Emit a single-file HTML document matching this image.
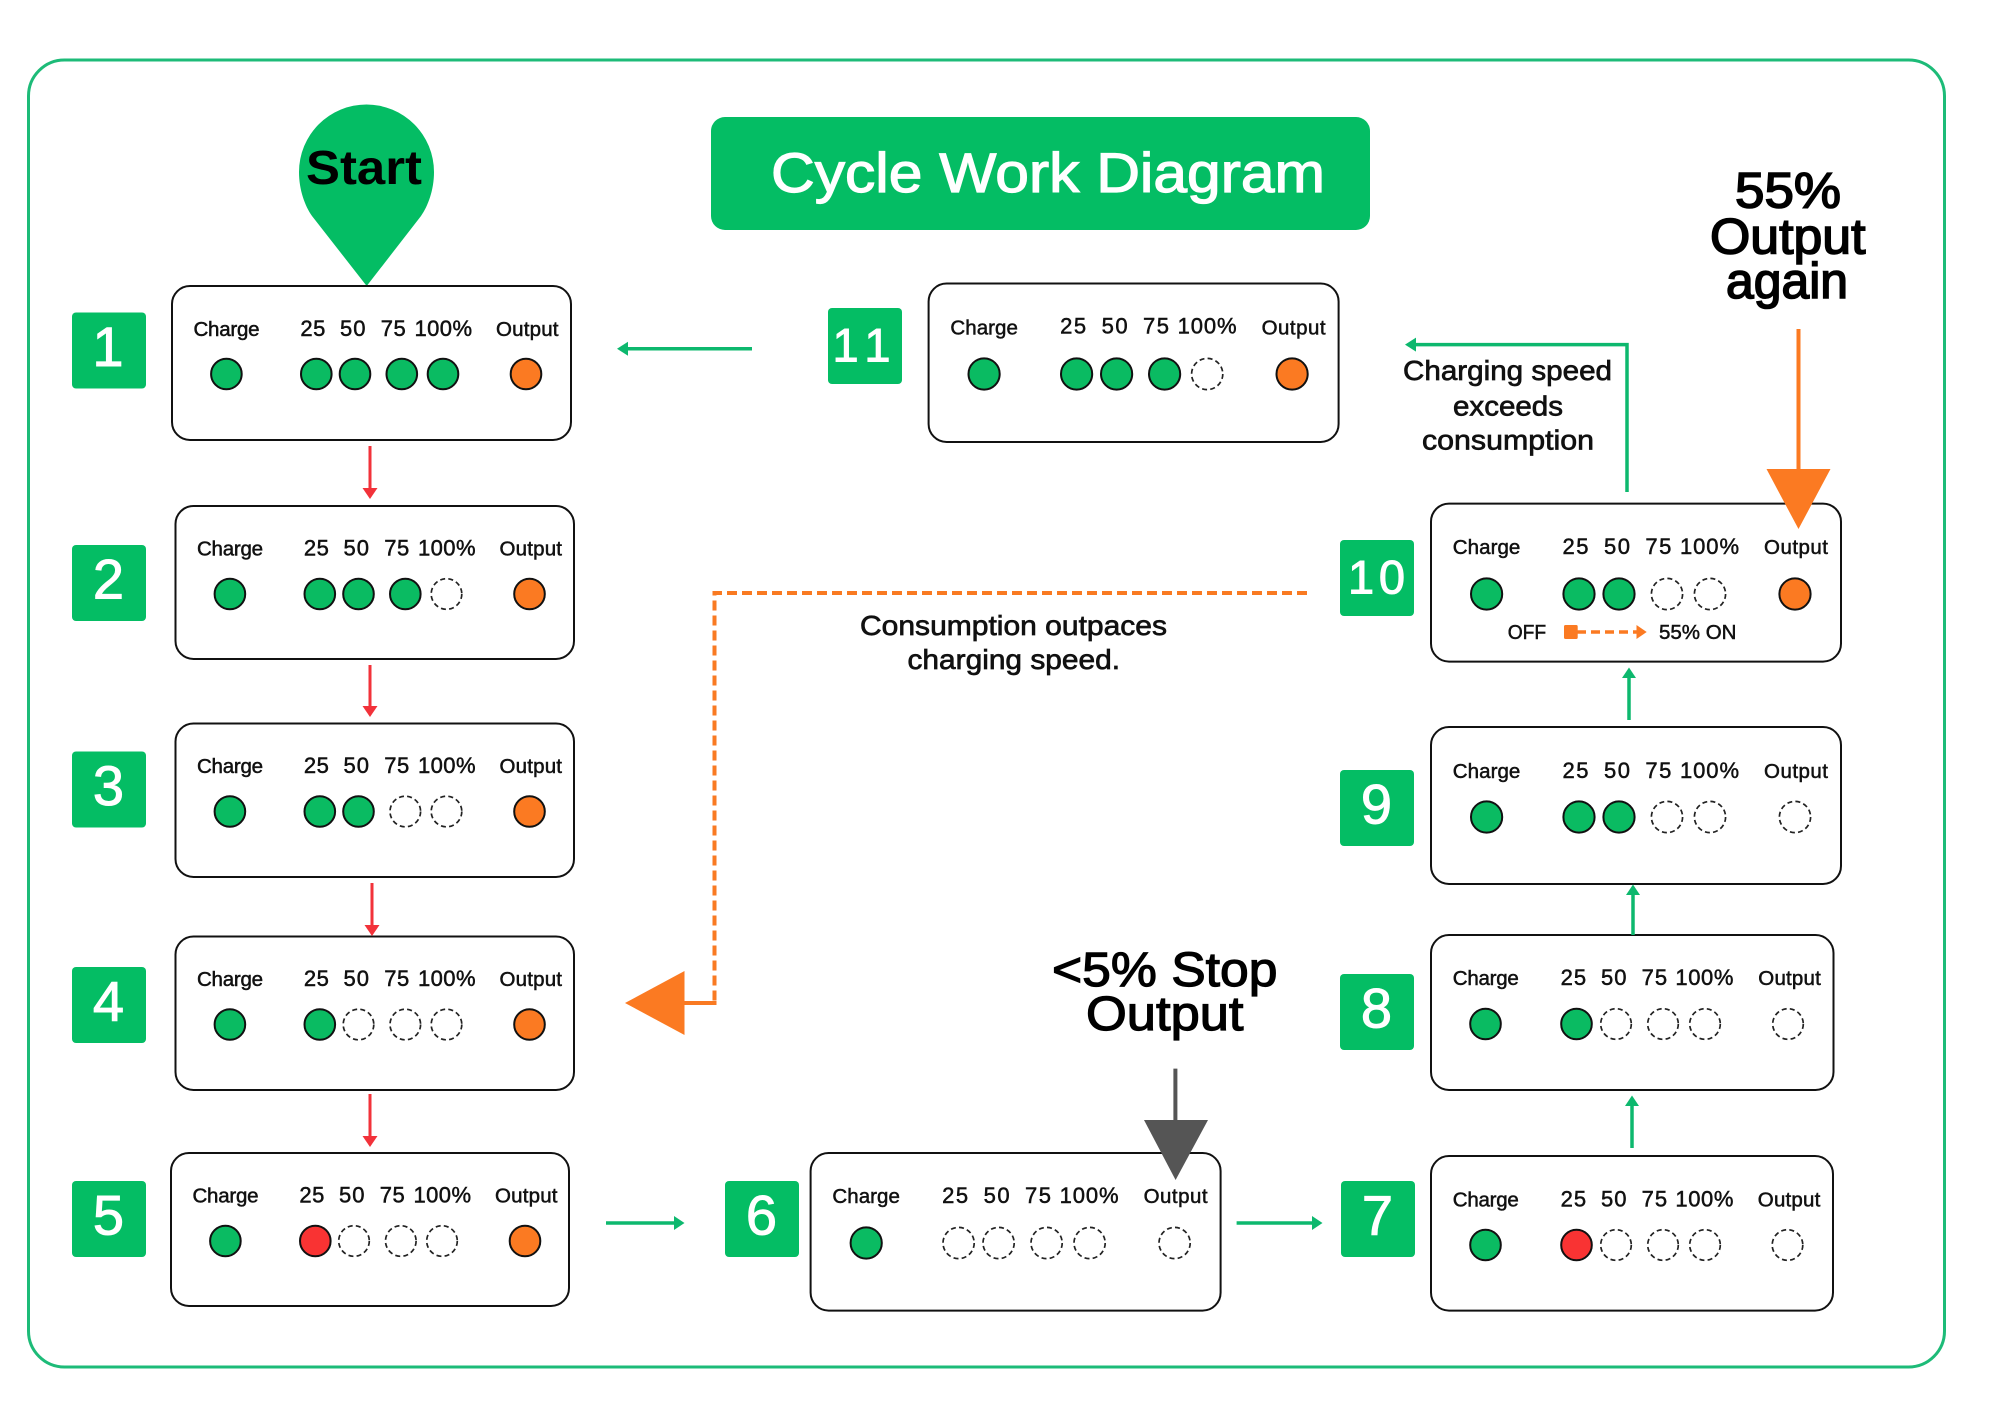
<!DOCTYPE html>
<html lang="en">
<head>
<meta charset="utf-8">
<title>Cycle Work Diagram</title>
<style>
html,body{margin:0;padding:0;background:#fff;width:2000px;height:1409px;overflow:hidden}
svg{display:block}
text{font-family:"Liberation Sans",Arial,sans-serif}
.box{fill:#fff;stroke:#111;stroke-width:2}
.l{font-size:20.5px;fill:#111;stroke:#111;stroke-width:.5px}
g text.l:nth-of-type(n+2):nth-of-type(-n+5){font-size:22px}
.g{fill:#0ABB62;stroke:#111;stroke-width:2}
.o{fill:#FB7A22;stroke:#111;stroke-width:2}
.r{fill:#F93333;stroke:#111;stroke-width:2}
.e{fill:#fff;stroke:#222;stroke-width:1.7;stroke-dasharray:5 3.2}
.b{fill:#04BD64}
.n{font-size:56px;fill:#fff;stroke:#fff;stroke-width:1px;text-anchor:middle}
.t{fill:#000;stroke:#000;stroke-width:1.6px;font-size:50px}
.m{fill:#111;stroke:#111;stroke-width:.7px;font-size:28px}
</style>
</head>
<body>
<svg width="2000" height="1409" viewBox="0 0 2000 1409" xmlns="http://www.w3.org/2000/svg">
<rect width="2000" height="1409" fill="#fff"/>
<rect x="28.5" y="60" width="1916" height="1307" rx="36" ry="36" fill="none" stroke="#1DBB78" stroke-width="3"/>

<!-- Start pin -->
<path d="M366.7 286 L312 216 C305 206 299 190 299 172 A67.5 67.5 0 0 1 434 172 C434 190 428 206 421 216 Z" fill="#04BD64"/>
<text x="306" y="184" font-size="48" font-weight="bold" fill="#000" textLength="116" lengthAdjust="spacingAndGlyphs">Start</text>

<!-- Title -->
<rect x="711" y="117" width="659" height="113" rx="14" fill="#04BD64"/>
<text x="771" y="192" font-size="56" fill="#fff" stroke="#fff" stroke-width="1.2" textLength="554" lengthAdjust="spacingAndGlyphs">Cycle Work Diagram</text>

<!-- Badges -->
<rect class="b" x="72" y="312.5" width="74" height="76" rx="4"/><text class="n" x="108" y="366">1</text>
<rect class="b" x="72" y="545" width="74" height="76" rx="4"/><text class="n" x="108.5" y="598.5">2</text>
<rect class="b" x="72" y="751.5" width="74" height="76" rx="4"/><text class="n" x="108.5" y="805">3</text>
<rect class="b" x="72" y="967" width="74" height="76" rx="4"/><text class="n" x="108.5" y="1020.5">4</text>
<rect class="b" x="72" y="1181" width="74" height="76" rx="4"/><text class="n" x="108.5" y="1234.5">5</text>
<rect class="b" x="725" y="1181" width="74" height="76" rx="4"/><text class="n" x="761.5" y="1234.5">6</text>
<rect class="b" x="1341" y="1181" width="74" height="76" rx="4"/><text class="n" x="1377.5" y="1234.5">7</text>
<rect class="b" x="1340" y="974" width="74" height="76" rx="4"/><text class="n" x="1376.5" y="1027.5">8</text>
<rect class="b" x="1340" y="770" width="74" height="76" rx="4"/><text class="n" x="1376.5" y="823.5">9</text>
<rect class="b" x="1340" y="540" width="74" height="76" rx="4"/><text class="n" style="font-size:47px" x="1376.5" y="593.5" textLength="57">10</text>
<rect class="b" x="828" y="308" width="74" height="76" rx="4"/><text class="n" style="font-size:47px" x="861.5" y="361.5" textLength="58">11</text>

<!-- Box 1 -->
<g transform="translate(172,286)">
<rect class="box" width="399" height="154" rx="18"/>
<text class="l" x="21.5" y="50" textLength="66">Charge</text><text class="l" x="128.4" y="50" textLength="25">25</text><text class="l" x="168" y="50" textLength="25.5">50</text><text class="l" x="208.7" y="50" textLength="25">75</text><text class="l" x="242.5" y="50" textLength="57.5">100%</text><text class="l" x="324" y="50" textLength="62.5">Output</text>
<circle class="g" cx="54.4" cy="88" r="15.3"/><circle class="g" cx="144.3" cy="88" r="15.3"/><circle class="g" cx="183" cy="88" r="15.3"/><circle class="g" cx="229.8" cy="88" r="15.3"/><circle class="g" cx="271" cy="88" r="15.3"/><circle class="o" cx="354" cy="88" r="15.3"/>
</g>
<!-- Box 2 -->
<g transform="translate(175.5,506)">
<rect class="box" width="398.5" height="153" rx="18"/>
<text class="l" x="21.5" y="49.5" textLength="66">Charge</text><text class="l" x="128.4" y="49.5" textLength="25">25</text><text class="l" x="168" y="49.5" textLength="25.5">50</text><text class="l" x="208.7" y="49.5" textLength="25">75</text><text class="l" x="242.5" y="49.5" textLength="57.5">100%</text><text class="l" x="324" y="49.5" textLength="62.5">Output</text>
<circle class="g" cx="54.4" cy="88" r="15.3"/><circle class="g" cx="144.3" cy="88" r="15.3"/><circle class="g" cx="183" cy="88" r="15.3"/><circle class="g" cx="229.8" cy="88" r="15.3"/><circle class="e" cx="271" cy="88" r="15.3"/><circle class="o" cx="354" cy="88" r="15.3"/>
</g>
<!-- Box 3 -->
<g transform="translate(175.5,723.5)">
<rect class="box" width="398.5" height="153.5" rx="18"/>
<text class="l" x="21.5" y="49.5" textLength="66">Charge</text><text class="l" x="128.4" y="49.5" textLength="25">25</text><text class="l" x="168" y="49.5" textLength="25.5">50</text><text class="l" x="208.7" y="49.5" textLength="25">75</text><text class="l" x="242.5" y="49.5" textLength="57.5">100%</text><text class="l" x="324" y="49.5" textLength="62.5">Output</text>
<circle class="g" cx="54.4" cy="88" r="15.3"/><circle class="g" cx="144.3" cy="88" r="15.3"/><circle class="g" cx="183" cy="88" r="15.3"/><circle class="e" cx="229.8" cy="88" r="15.3"/><circle class="e" cx="271" cy="88" r="15.3"/><circle class="o" cx="354" cy="88" r="15.3"/>
</g>
<!-- Box 4 -->
<g transform="translate(175.5,936.5)">
<rect class="box" width="398.5" height="153.5" rx="18"/>
<text class="l" x="21.5" y="49.5" textLength="66">Charge</text><text class="l" x="128.4" y="49.5" textLength="25">25</text><text class="l" x="168" y="49.5" textLength="25.5">50</text><text class="l" x="208.7" y="49.5" textLength="25">75</text><text class="l" x="242.5" y="49.5" textLength="57.5">100%</text><text class="l" x="324" y="49.5" textLength="62.5">Output</text>
<circle class="g" cx="54.4" cy="88" r="15.3"/><circle class="g" cx="144.3" cy="88" r="15.3"/><circle class="e" cx="183" cy="88" r="15.3"/><circle class="e" cx="229.8" cy="88" r="15.3"/><circle class="e" cx="271" cy="88" r="15.3"/><circle class="o" cx="354" cy="88" r="15.3"/>
</g>
<!-- Box 5 -->
<g transform="translate(171,1153)">
<rect class="box" width="398" height="153" rx="18"/>
<text class="l" x="21.5" y="49.5" textLength="66">Charge</text><text class="l" x="128.4" y="49.5" textLength="25">25</text><text class="l" x="168" y="49.5" textLength="25.5">50</text><text class="l" x="208.7" y="49.5" textLength="25">75</text><text class="l" x="242.5" y="49.5" textLength="57.5">100%</text><text class="l" x="324" y="49.5" textLength="62.5">Output</text>
<circle class="g" cx="54.4" cy="88" r="15.3"/><circle class="r" cx="144.3" cy="88" r="15.3"/><circle class="e" cx="183" cy="88" r="15.3"/><circle class="e" cx="229.8" cy="88" r="15.3"/><circle class="e" cx="271" cy="88" r="15.3"/><circle class="o" cx="354" cy="88" r="15.3"/>
</g>
<!-- Box 6 -->
<g transform="translate(810.6,1153)">
<rect class="box" width="410" height="157.6" rx="18"/>
<text class="l" x="21.8" y="50" textLength="67.5">Charge</text><text class="l" x="131.5" y="50" textLength="26">25</text><text class="l" x="173" y="50" textLength="26">50</text><text class="l" x="214.4" y="50" textLength="26">75</text><text class="l" x="249" y="50" textLength="59">100%</text><text class="l" x="333" y="50" textLength="64">Output</text>
<circle class="g" cx="55.6" cy="90" r="15.6"/><circle class="e" cx="148" cy="90" r="15.6"/><circle class="e" cx="188" cy="90" r="15.6"/><circle class="e" cx="236" cy="90" r="15.6"/><circle class="e" cx="279" cy="90" r="15.6"/><circle class="e" cx="364" cy="90" r="15.6"/>
</g>
<!-- Box 7 -->
<g transform="translate(1431,1156)">
<rect class="box" width="402" height="154.6" rx="18"/>
<text class="l" x="21.8" y="50.5" textLength="66">Charge</text><text class="l" x="129.6" y="50.5" textLength="25.5">25</text><text class="l" x="170" y="50.5" textLength="25.5">50</text><text class="l" x="210.6" y="50.5" textLength="25.5">75</text><text class="l" x="244.4" y="50.5" textLength="58">100%</text><text class="l" x="326.8" y="50.5" textLength="62.5">Output</text>
<circle class="g" cx="54.5" cy="89" r="15.3"/><circle class="r" cx="145.5" cy="89" r="15.3"/><circle class="e" cx="185" cy="89" r="15.3"/><circle class="e" cx="232" cy="89" r="15.3"/><circle class="e" cx="274" cy="89" r="15.3"/><circle class="e" cx="356.5" cy="89" r="15.3"/>
</g>
<!-- Box 8 -->
<g transform="translate(1431,935)">
<rect class="box" width="402.5" height="155" rx="18"/>
<text class="l" x="21.8" y="50" textLength="66">Charge</text><text class="l" x="129.6" y="50" textLength="25.5">25</text><text class="l" x="170" y="50" textLength="25.5">50</text><text class="l" x="210.6" y="50" textLength="25.5">75</text><text class="l" x="244.4" y="50" textLength="58">100%</text><text class="l" x="327.3" y="50" textLength="62.5">Output</text>
<circle class="g" cx="54.5" cy="89" r="15.3"/><circle class="g" cx="145.5" cy="89" r="15.3"/><circle class="e" cx="185" cy="89" r="15.3"/><circle class="e" cx="232" cy="89" r="15.3"/><circle class="e" cx="274" cy="89" r="15.3"/><circle class="e" cx="357" cy="89" r="15.3"/>
</g>
<!-- Box 9 -->
<g transform="translate(1431,727)">
<rect class="box" width="410" height="157" rx="18"/>
<text class="l" x="21.8" y="51" textLength="67.5">Charge</text><text class="l" x="131.5" y="51" textLength="26">25</text><text class="l" x="173" y="51" textLength="26">50</text><text class="l" x="214.4" y="51" textLength="26">75</text><text class="l" x="249" y="51" textLength="59">100%</text><text class="l" x="333" y="51" textLength="64">Output</text>
<circle class="g" cx="55.6" cy="90" r="15.6"/><circle class="g" cx="148" cy="90" r="15.6"/><circle class="g" cx="188" cy="90" r="15.6"/><circle class="e" cx="236" cy="90" r="15.6"/><circle class="e" cx="279" cy="90" r="15.6"/><circle class="e" cx="364" cy="90" r="15.6"/>
</g>
<!-- Box 10 -->
<g transform="translate(1431,503.6)">
<rect class="box" width="410" height="158" rx="18"/>
<text class="l" x="21.8" y="50.4" textLength="67.5">Charge</text><text class="l" x="131.5" y="50.4" textLength="26">25</text><text class="l" x="173" y="50.4" textLength="26">50</text><text class="l" x="214.4" y="50.4" textLength="26">75</text><text class="l" x="249" y="50.4" textLength="59">100%</text><text class="l" x="333" y="50.4" textLength="64">Output</text>
<circle class="g" cx="55.6" cy="90.4" r="15.6"/><circle class="g" cx="148" cy="90.4" r="15.6"/><circle class="g" cx="188" cy="90.4" r="15.6"/><circle class="e" cx="236" cy="90.4" r="15.6"/><circle class="e" cx="279" cy="90.4" r="15.6"/><circle class="o" cx="364" cy="90.4" r="15.6"/>
</g>
<text class="l" x="1507.7" y="639" textLength="38.5" lengthAdjust="spacingAndGlyphs">OFF</text>
<rect x="1564" y="625" width="13.7" height="14" rx="1.5" fill="#FB7A22"/>
<line x1="1577" y1="632" x2="1638" y2="632" stroke="#FB7A22" stroke-width="3.5" stroke-dasharray="9 5"/>
<polygon points="1636.5,625 1646.7,632 1636.5,639" fill="#FB7A22"/>
<text class="l" x="1659" y="639" textLength="77.5" lengthAdjust="spacingAndGlyphs">55% ON</text>
<!-- Box 11 -->
<g transform="translate(928.6,283.5)">
<rect class="box" width="410" height="158.5" rx="18"/>
<text class="l" x="21.8" y="51" textLength="67.5">Charge</text><text class="l" x="131.5" y="50" textLength="26">25</text><text class="l" x="173" y="50" textLength="26">50</text><text class="l" x="214.4" y="50" textLength="26">75</text><text class="l" x="249" y="50" textLength="59">100%</text><text class="l" x="333" y="51" textLength="64">Output</text>
<circle class="g" cx="55.5" cy="90.5" r="15.6"/><circle class="g" cx="148" cy="90.5" r="15.6"/><circle class="g" cx="188" cy="90.5" r="15.6"/><circle class="g" cx="236" cy="90.5" r="15.6"/><circle class="e" cx="278.6" cy="90.5" r="15.6"/><circle class="o" cx="363.5" cy="90.5" r="15.6"/>
</g>

<!-- Red arrows -->
<g stroke="#F2323A" stroke-width="3" fill="#F2323A">
<line x1="370" y1="446" x2="370" y2="492"/><polygon stroke="none" points="362.5,488 377.5,488 370,499"/>
<line x1="370" y1="665" x2="370" y2="710"/><polygon stroke="none" points="362.5,706 377.5,706 370,717"/>
<line x1="372" y1="883" x2="372" y2="929"/><polygon stroke="none" points="364.5,925 379.5,925 372,936"/>
<line x1="370" y1="1094" x2="370" y2="1140"/><polygon stroke="none" points="362.5,1136 377.5,1136 370,1147"/>
</g>

<!-- Green arrows -->
<g stroke="#0DB86E" stroke-width="3.5" fill="#0DB86E">
<line x1="752" y1="348.7" x2="624" y2="348.7"/><polygon stroke="none" points="617,348.7 628,341.7 628,355.7"/>
<line x1="606" y1="1223" x2="677" y2="1223"/><polygon stroke="none" points="684.5,1223 674,1216 674,1230"/>
<line x1="1236.6" y1="1223" x2="1315" y2="1223"/><polygon stroke="none" points="1322.5,1223 1312,1216 1312,1230"/>
<line x1="1632" y1="1148" x2="1632" y2="1103"/><polygon stroke="none" points="1632,1095.5 1625,1106 1639,1106"/>
<line x1="1633" y1="935" x2="1633" y2="892"/><polygon stroke="none" points="1633,884.5 1626,895 1640,895"/>
<line x1="1629" y1="720" x2="1629" y2="675"/><polygon stroke="none" points="1629,667.5 1622,678 1636,678"/>
<polyline fill="none" points="1627,492 1627,344.6 1412,344.6"/><polygon stroke="none" points="1405,344.6 1416,337.6 1416,351.6"/>
</g>

<!-- Orange dashed elbow -->
<polyline points="1307,593 714.5,593 714.5,1003" fill="none" stroke="#F97A22" stroke-width="4" stroke-dasharray="10 5"/>
<line x1="716.5" y1="1003" x2="680" y2="1003" stroke="#F97A22" stroke-width="4"/>
<polygon points="625,1003 684.5,971 684.5,1035" fill="#FB7A22"/>

<!-- Big orange arrow -->
<line x1="1798.5" y1="329" x2="1798.5" y2="472" stroke="#FB7A22" stroke-width="4"/>
<polygon points="1766.5,469 1830.5,469 1798.5,529" fill="#FB7A22"/>

<!-- Grey arrow -->
<line x1="1175.4" y1="1068.6" x2="1175.4" y2="1124" stroke="#555" stroke-width="4"/>
<polygon points="1144,1120 1208,1120 1175.6,1180" fill="#555"/>

<!-- Annotation text -->
<text class="t" x="1735" y="207.5" textLength="106" lengthAdjust="spacingAndGlyphs">55%</text>
<text class="t" x="1710" y="253.5" textLength="155.5" lengthAdjust="spacingAndGlyphs">Output</text>
<text class="t" x="1726" y="298" textLength="122" lengthAdjust="spacingAndGlyphs">again</text>

<text class="t" style="font-size:48px;stroke-width:1.2px" x="1052" y="986" textLength="225.5" lengthAdjust="spacingAndGlyphs">&lt;5% Stop</text>
<text class="t" style="font-size:48px;stroke-width:1.2px" x="1086" y="1030" textLength="157.5" lengthAdjust="spacingAndGlyphs">Output</text>

<text class="m" x="1403" y="380" textLength="209" lengthAdjust="spacingAndGlyphs">Charging speed</text>
<text class="m" x="1453" y="415.5" textLength="110" lengthAdjust="spacingAndGlyphs">exceeds</text>
<text class="m" x="1422" y="449.5" textLength="172" lengthAdjust="spacingAndGlyphs">consumption</text>

<text class="m" x="860" y="635" textLength="307" lengthAdjust="spacingAndGlyphs">Consumption outpaces</text>
<text class="m" x="907.5" y="669" textLength="212.5" lengthAdjust="spacingAndGlyphs">charging speed.</text>
</svg>
</body>
</html>
